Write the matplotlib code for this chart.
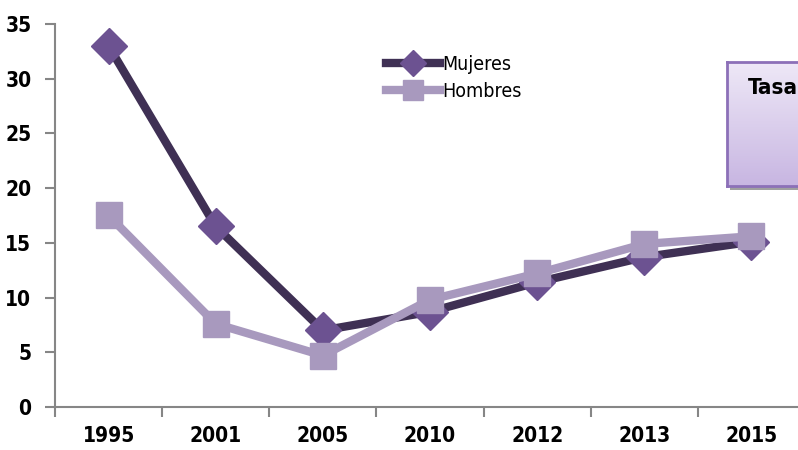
import numpy as np
import matplotlib.pyplot as plt
from matplotlib.patches import Rectangle

plt.rcParams['font.family'] = ['DejaVu Sans']
plt.rcParams['font.stretch'] = 'condensed'

years = ['1995', '2001', '2005', '2010', '2012', '2013', '2015']
mujeres = [33.0, 16.5, 7.0, 8.7, 11.4, 13.7, 15.1]
hombres = [17.5, 7.6, 4.7, 9.8, 12.2, 14.9, 15.6]

c_muj_line = '#3f3054'
c_muj_mark = '#6c5291'
c_hom = '#a899be'

fig = plt.figure(figsize=(7.98, 4.5), dpi=100)
ax = fig.add_axes([55/798, 43/450, 750/798, 383/450])
x = np.arange(len(years))

ax.plot(x, mujeres, color=c_muj_line, lw=6, marker='D', ms=18,
        mfc=c_muj_mark, mec=c_muj_mark, label='Mujeres', zorder=3)
ax.plot(x, hombres, color=c_hom, lw=6, marker='s', ms=19,
        mfc=c_hom, mec=c_hom, label='Hombres', zorder=4)

ax.set_xlim(-0.5, 6.5)
ax.set_ylim(0, 35)
ax.set_yticks(np.arange(0, 36, 5))
ax.set_xticks(x)
ax.set_xticklabels(years)
ax.set_xticks(np.arange(-0.5, 7, 1), minor=True)
for s in ['top', 'right']:
    ax.spines[s].set_visible(False)
for s in ['left', 'bottom']:
    ax.spines[s].set_color('#868686')
    ax.spines[s].set_linewidth(1.5)
ax.tick_params(axis='y', length=7, width=1.5, color='#868686', labelsize=15, pad=10)
ax.tick_params(axis='x', which='major', length=0, labelsize=15, pad=14)
ax.tick_params(axis='x', which='minor', length=7, width=1.5, color='#868686')
for lab in ax.get_xticklabels() + ax.get_yticklabels():
    lab.set_fontweight('bold')

leg = ax.legend(loc='upper left', bbox_to_anchor=(0.431, 0.94), frameon=False,
                fontsize=14, handlelength=2.8, handletextpad=0.1,
                labelspacing=0.4, borderaxespad=0, markerscale=0.75)

# partial text box on the right, with a soft vertical gradient
x0, y0, w, h = 727/798, 1 - 186/450, 0.2, 124/450
shadow = Rectangle((x0 + 3/798, y0 - 4/450), w, h, transform=fig.transFigure,
                   facecolor='#a0a0a0', edgecolor='none', zorder=5)
fig.patches.append(shadow)
gax = fig.add_axes([x0, y0, w, h], zorder=6)
grad = np.linspace(0, 1, 100).reshape(-1, 1)
gax.imshow(grad, aspect='auto', cmap=plt.matplotlib.colors.LinearSegmentedColormap.from_list(
    'g', ['#eee8f7', '#c8b6e2']), extent=(0, 1, 0, 1), origin='upper')
gax.set_xticks([])
gax.set_yticks([])
for s in gax.spines.values():
    s.set_color('#8c70b8')
    s.set_linewidth(2)
gax.text(21/798/w, 1 - 26/450/h, 'Tasa', transform=gax.transAxes, fontsize=16,
         fontweight='bold', va='center', ha='left')

fig.savefig('out.png', dpi=100)
